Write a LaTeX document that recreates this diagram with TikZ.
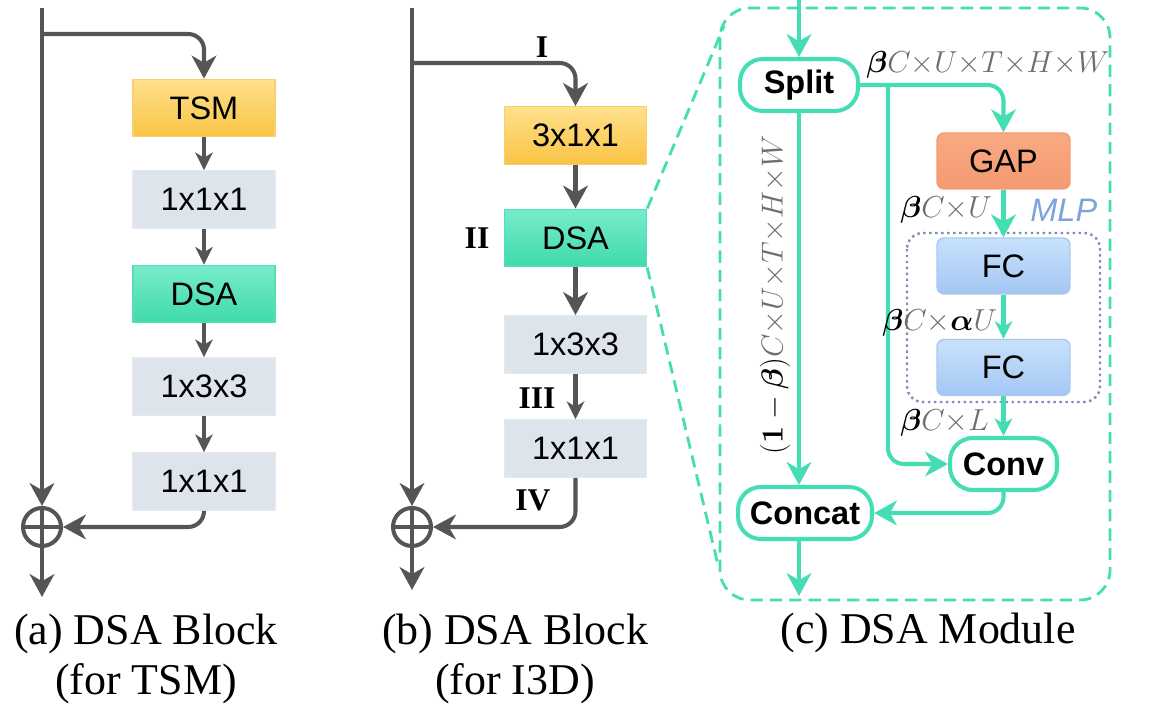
\documentclass[tikz,border=0pt]{standalone}
\usepackage{amsmath, amssymb, bm}
\usepackage{fontspec}
\setmainfont{Liberation Serif}
\setsansfont{Liberation Sans}
\usetikzlibrary{arrows.meta, calc}
\usepackage{xcolor}
\definecolor{linegray}{HTML}{555555}
\definecolor{labgray}{HTML}{6E6E6E}
\definecolor{dsateal}{HTML}{45DEB4}
\definecolor{tsmtop}{HTML}{FFE08C}
\definecolor{tsmbot}{HTML}{F9C444}
\definecolor{tsmedge}{HTML}{F6CF70}
\definecolor{convfill}{HTML}{DDE4EC}
\definecolor{convedge}{HTML}{E4E9EF}
\definecolor{dsatop}{HTML}{78EBCA}
\definecolor{dsabot}{HTML}{40DAAD}
\definecolor{dsaedge}{HTML}{55DEB7}
\definecolor{gaptop}{HTML}{F9A982}
\definecolor{gapbot}{HTML}{F49A70}
\definecolor{fctop}{HTML}{C8E2FC}
\definecolor{fcbot}{HTML}{A3C6F3}
\definecolor{fcedge}{HTML}{A9C8F0}
\definecolor{mlpblue}{HTML}{7E8EBB}
\definecolor{mlptext}{HTML}{7FA2DA}
\newcommand{\gr}[1]{\textcolor{labgray}{#1}}

\begin{document}
\begin{tikzpicture}[x=0.02cm, y=-0.02cm,
        blk/.style={minimum width=2.84cm, minimum height=1.15cm, inner sep=0pt, line width=0.8pt,
            font=\sffamily\fontsize{18.5}{20}\selectfont},
        tsmblk/.style={blk, draw=tsmedge, top color=tsmtop, bottom color=tsmbot},
        convblk/.style={blk, draw=convedge, fill=convfill},
        dsablk/.style={blk, draw=dsaedge, top color=dsatop, bottom color=dsabot},
        gapblk/.style={blk, minimum width=2.66cm, minimum height=1.12cm, rounded corners=4pt,
            draw=gapbot, top color=gaptop, bottom color=gapbot},
        fcblk/.style={blk, minimum width=2.66cm, minimum height=1.12cm, rounded corners=4pt,
            draw=fcedge, top color=fctop, bottom color=fcbot},
        pill/.style={draw=dsateal, fill=white, line width=2.3pt, rounded corners=13pt, inner sep=0pt,
            minimum height=1.04cm, font=\sffamily\bfseries\fontsize{18.5}{20}\selectfont},
        sum/.style={circle, draw=linegray, line width=2.3pt, minimum size=0.76cm, inner sep=0pt},
        gline/.style={draw=linegray, line width=2.3pt},
        gflow/.style={gline, -{Stealth[length=13pt, width=14pt, inset=4pt]}},
        gstep/.style={gline, -{Stealth[length=10pt, width=10pt, inset=3pt]}},
        tline/.style={draw=dsateal, line width=2.3pt},
        tflow/.style={tline, -{Stealth[length=13pt, width=14pt, inset=4pt]}},
        tstep/.style={tline, -{Stealth[length=10pt, width=10pt, inset=3pt]}},
        roman/.style={font=\bfseries\fontsize{18}{20}\selectfont},
        dims/.style={font=\fontsize{18}{20}\selectfont, inner sep=0pt},
        caption/.style={align=center, font=\fontsize{25}{28}\selectfont}]
        \useasboundingbox (0,0) rectangle (1153,715);
        % (a) block for TSM
        \coordinate (atop) at (42,8);
        \coordinate (abr) at (42,34);
        \coordinate (aout) at (42,597);
        \node[tsmblk] (a1) at (204,108) {TSM};
        \node[convblk] (a2) at (204,199.5) {1x1x1};
        \node[dsablk] (a3) at (204,294) {DSA};
        \node[convblk] (a4) at (204,386.5) {1x3x3};
        \node[convblk] (a5) at (204,481.5) {1x1x1};
        \node[sum] (asum) at (42,527) {};
        \draw[gline] (asum.north) -- (asum.south) (asum.west) -- (asum.east);
        \draw[gflow] (atop) -- (asum.north);
        \draw[gflow, rounded corners=9pt] (abr) -| (a1.north);
        \foreach \i/\j in {a1/a2, a2/a3, a3/a4, a4/a5} \draw[gstep] (\i) -- (\j);
        \draw[gflow, rounded corners=9pt] (a5.south) |- (asum.east);
        \draw[gflow] (asum.south) -- (aout);
        \node[caption] (acap) at (146,659) {(a) DSA Block\\(for TSM)};
        % (b) block for I3D
        \coordinate (btop) at (412,8);
        \coordinate (bbr) at (412,63);
        \coordinate (bout) at (412,590);
        \node[tsmblk] (b1) at (575.5,135.5) {3x1x1};
        \node[dsablk] (b2) at (575.5,238) {DSA};
        \node[convblk] (b3) at (575.5,344.5) {1x3x3};
        \node[convblk] (b4) at (575.5,448.5) {1x1x1};
        \node[sum] (bsum) at (412,527) {};
        \draw[gline] (bsum.north) -- (bsum.south) (bsum.west) -- (bsum.east);
        \draw[gflow] (btop) -- (bsum.north);
        \draw[gflow, rounded corners=9pt] (bbr) -| (b1.north);
        \draw[gflow] (b1) -- (b2);
        \draw[gflow] (b2) -- (b3);
        \draw[gstep] (b3) -- (b4);
        \draw[gflow, rounded corners=9pt] (b4.south) |- (bsum.east);
        \draw[gflow] (bsum.south) -- (bout);
        \node[roman] (r1) at (542,47) {I};
        \node[roman] (r2) at (477,238) {II};
        \node[roman] (r3) at (537,398) {III};
        \node[roman] (r4) at (533,500) {IV};
        \node[caption] (bcap) at (515,659) {(b) DSA Block\\(for I3D)};
        % (c) DSA module
        \draw[dsateal, line width=1.6pt, dash pattern=on 7pt off 4pt, rounded corners=17pt]
            (720,8) rectangle (1110,600);
        \coordinate (ltop) at (724,26);
        \coordinate (lbot) at (718,565);
        \draw[dsateal, line width=1.6pt, dash pattern=on 7pt off 4pt] (b2.north east) -- (ltop);
        \draw[dsateal, line width=1.6pt, dash pattern=on 7pt off 4pt] (b2.south east) -- (lbot);
        \draw[mlpblue, line width=1.4pt, dotted, rounded corners=9pt] (907,233) rectangle (1100,402);
        \coordinate (cin) at (799,0);
        \coordinate (cbr) at (888,86);
        \coordinate (cout) at (799,596);
        \node[pill, minimum width=2.36cm] (split) at (799,85) {Split};
        \node[gapblk] (gap) at (1003.5,161) {GAP};
        \node[fcblk] (fc1) at (1003.5,266) {FC};
        \node[fcblk] (fc2) at (1003.5,367.5) {FC};
        \node[pill, minimum width=2.14cm] (conv) at (1003.5,464) {Conv};
        \node[pill, minimum width=2.68cm] (concat) at (805,513) {Concat};
        \draw[tflow] (cin) -- (split.north);
        \draw[tflow, rounded corners=9pt] (split.east) -| (gap.north);
        \draw[tflow, rounded corners=9pt] (cbr) |- (conv.west);
        \draw[tflow] (split.south) -- (split.south |- concat.north);
        \draw[tflow] (gap) -- (fc1);
        \draw[tstep] (fc1) -- (fc2);
        \draw[tstep] (fc2) -- (conv);
        \draw[tflow, rounded corners=9pt] (conv.south) |- (concat.east);
        \draw[tflow] (split.south |- concat.south) -- (cout);
        \node[dims, anchor=west] (d1) at (866,65) {$\bm{\beta}\gr{C{\times}U{\times}T{\times}H{\times}W}$};
        \node[dims, anchor=west] (d2) at (900,210) {$\bm{\beta}\gr{C{\times}U}$};
        \node[dims, anchor=west] (d3) at (882,323) {$\bm{\beta}\gr{C{\times}}\bm{\alpha}\gr{U}$};
        \node[dims, anchor=west] (d4) at (900,423) {$\bm{\beta}\gr{C{\times}L}$};
        \node[dims, rotate=90] (d5) at (775,295) {$(\bm{1}-\bm{\beta})\gr{C{\times}U{\times}T{\times}H{\times}W}$};
        \node[anchor=west, inner sep=0pt, text=mlptext, font=\sffamily\itshape\fontsize{18.5}{20}\selectfont]
            (mlp) at (1030,210) {MLP};
        \node[caption] (ccap) at (928,633) {(c) DSA Module};
\end{tikzpicture}
\end{document}
